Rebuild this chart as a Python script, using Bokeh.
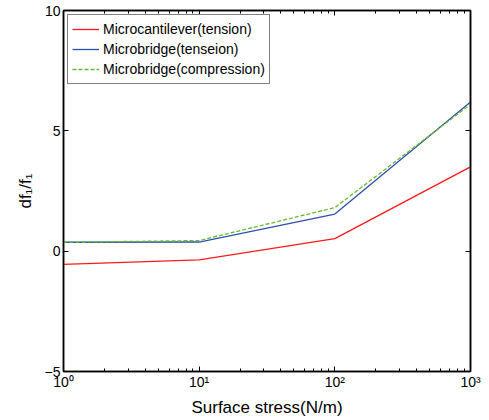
from bokeh.plotting import figure
from bokeh.models import LogAxis, LinearAxis, Legend, LegendItem, FixedTicker, CustomJSTickFormatter, Range1d
from bokeh.embed import file_html
from bokeh.resources import INLINE

stress = [1, 10, 100, 1000]
cantilever_tension = [-0.55, -0.36, 0.52, 3.5]
bridge_tension = [0.37, 0.38, 1.54, 6.2]
bridge_compression = [0.37, 0.44, 1.81, 6.1]
x_ticks = [1, 10, 100, 1000]
x_tick_labels = ["10⁰", "10¹", "10²", "10³"]
y_ticks = [-5, 0, 5, 10]

FONT = "Liberation Sans"

p = figure(width=485, height=419, x_axis_type="log", output_backend="svg",
           toolbar_location=None, x_range=Range1d(1, 1000), y_range=Range1d(-5, 10),
           min_border_left=63, min_border_right=15, min_border_top=10, min_border_bottom=45)
p.xgrid.visible = False
p.ygrid.visible = False
p.outline_line_color = "black"
p.outline_line_width = 1.5
p.background_fill_color = "white"
p.border_fill_color = "white"

fmt = CustomJSTickFormatter(args=dict(lab=x_tick_labels, tk=x_ticks), code="""
const i = tk.indexOf(Math.round(tick));
return i >= 0 ? lab[i] : "";
""")

minor = [m * d for d in [1, 10, 100] for m in range(2, 10)]

xa = p.xaxis[0]
xa.ticker = FixedTicker(ticks=x_ticks, minor_ticks=minor)
xa.formatter = fmt
xa.axis_label = "Surface stress(N/m)"

ya = p.yaxis[0]
ya.ticker = FixedTicker(ticks=y_ticks)
ya.axis_label = "df₁/f₁"

for ax in [xa, ya]:
    ax.major_tick_in = 5
    ax.major_tick_out = 0
    ax.minor_tick_in = 3
    ax.minor_tick_out = 0
    ax.axis_line_color = "black"
    ax.axis_line_width = 1.5
    ax.major_label_text_font = FONT
    ax.major_label_text_font_size = "14px"
    ax.major_label_text_color = "black"
    ax.axis_label_text_font = FONT
    ax.axis_label_text_font_size = "17px"
    ax.axis_label_text_font_style = "normal"
    ax.axis_label_text_color = "black"
ya.minor_tick_in = 0
xa.major_label_standoff = 2
ya.major_label_standoff = 3
xa.axis_label_standoff = 5
ya.axis_label_standoff = 7

top = LogAxis(ticker=FixedTicker(ticks=x_ticks, minor_ticks=minor),
              major_tick_in=5, major_tick_out=0,
              minor_tick_in=3, minor_tick_out=0, axis_line_width=1.5)
top.major_label_text_alpha = 0
top.major_label_text_font_size = "1px"
p.add_layout(top, "above")
right = LinearAxis(ticker=FixedTicker(ticks=y_ticks),
                   major_tick_in=5, major_tick_out=0, minor_tick_in=0, minor_tick_out=0, axis_line_width=1.5)
right.major_label_text_alpha = 0
right.major_label_text_font_size = "1px"
p.add_layout(right, "right")

r1 = p.line(stress, cantilever_tension, line_color="#ff1a1a", line_width=1.3)
r2 = p.line(stress, bridge_tension, line_color="#2f4fb0", line_width=1.3)
r3 = p.line(stress, bridge_compression, line_color="#66bb33", line_width=1.3, line_dash="4 2")

legend = Legend(items=[
    LegendItem(label="Microcantilever(tension)", renderers=[r1]),
    LegendItem(label="Microbridge(tenseion)", renderers=[r2]),
    LegendItem(label="Microbridge(compression)", renderers=[r3]),
], location="top_left")
legend.label_text_font = FONT
legend.label_text_font_size = "14px"
legend.label_text_color = "black"
legend.border_line_color = "black"
legend.border_line_width = 1.2
legend.glyph_width = 27
legend.glyph_height = 20
legend.label_height = 20
legend.spacing = 0
legend.padding = 4
legend.margin = 4
legend.label_standoff = 4
legend.background_fill_alpha = 1
p.add_layout(legend)

open("out.html", "w").write(file_html(p, INLINE))
